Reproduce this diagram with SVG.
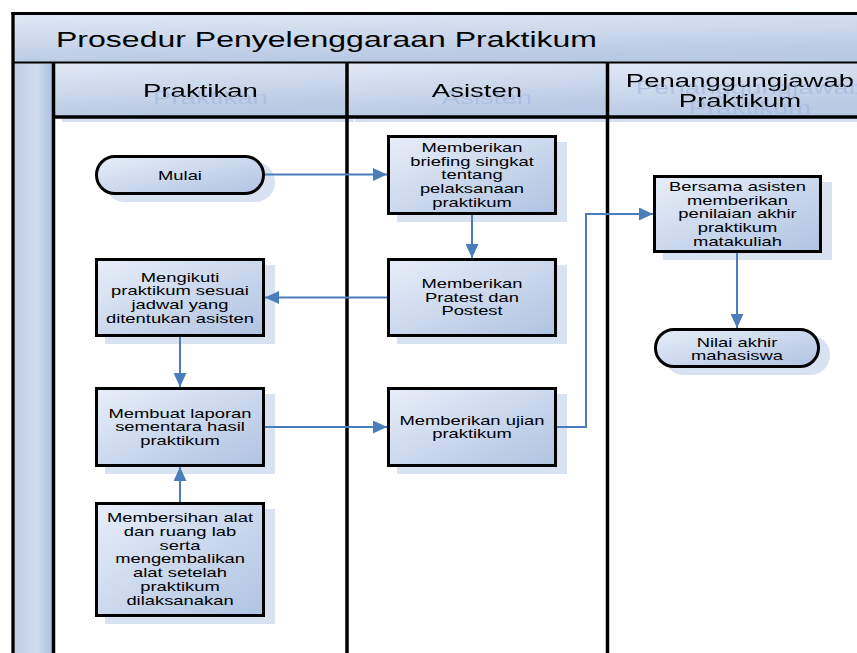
<svg xmlns="http://www.w3.org/2000/svg" width="857" height="653" viewBox="0 0 857 653">
<style>
.bg{fill:#fff}
.box{fill:url(#gBox);stroke:#000;stroke-width:3}
.shadow{fill:#d8e2f1}
.hshadow{fill:#d6e0f0}
.band{fill:url(#gBand)}
.t{font-family:"Liberation Sans",Arial,sans-serif;font-size:13px;fill:#000;text-anchor:middle}
.h{font-family:"Liberation Sans",Arial,sans-serif;font-size:18.5px;fill:#000;text-anchor:middle;filter:url(#ghost)}
.title{font-family:"Liberation Sans",Arial,sans-serif;font-size:21.5px;fill:#000}
.conn{fill:none;stroke:#4a7ebb;stroke-width:2;marker-end:url(#arr)}
.ln{stroke:#000;fill:none}
</style>
<defs>
<linearGradient id="gBox" x1="0" y1="0" x2="1" y2="1">
<stop offset="0" stop-color="#e8eef8"/>
<stop offset="1" stop-color="#afc3e2"/>
</linearGradient>
<linearGradient id="gBand" x1="0" y1="0" x2="0.3" y2="1">
<stop offset="0" stop-color="#e2e9f5"/>
<stop offset="1" stop-color="#b8c9e4"/>
</linearGradient>
<linearGradient id="gPool" x1="0" y1="0" x2="1" y2="0">
<stop offset="0" stop-color="#bfcee8"/>
<stop offset="0.6" stop-color="#cfdbef"/>
<stop offset="1" stop-color="#a9bddf"/>
</linearGradient>
<marker id="arr" markerUnits="userSpaceOnUse" markerWidth="14" markerHeight="13" refX="14" refY="6.5" orient="auto">
<path d="M0,0 L14,6.5 L0,13 z" fill="#4a7ebb"/>
</marker>
<filter id="ghost" x="-20%" y="-30%" width="150%" height="200%">
<feOffset in="SourceAlpha" dx="6.7" dy="7" result="o"/>
<feFlood flood-color="#9fb6de" flood-opacity="0.65"/>
<feComposite in2="o" operator="in" result="s"/>
<feMerge><feMergeNode in="s"/><feMergeNode in="SourceGraphic"/></feMerge>
</filter>
</defs>

<rect class="bg" x="0" y="0" width="857" height="653"/>

<g id="pool">
<rect x="13" y="13" width="41" height="640" fill="url(#gPool)"/>
<rect class="band" x="13" y="13" width="844" height="49"/>
<text class="title" transform="translate(56 47) scale(1.49 1)" x="0" y="0">Prosedur Penyelenggaraan Praktikum</text>
</g>

<g id="lane-headers">
<rect class="hshadow" x="62" y="69" width="292" height="53"/>
<rect class="hshadow" x="355" y="69" width="261" height="53"/>
<rect class="hshadow" x="616" y="69" width="250" height="53"/>
<rect class="band" x="54" y="63" width="293" height="53"/>
<rect class="band" x="347" y="63" width="261" height="53"/>
<rect class="band" x="608" y="63" width="249" height="53"/>
<g id="lane-praktikan"><text class="h" transform="translate(200.5 97) scale(1.49 1)" x="0" y="0">Praktikan</text></g>
<g id="lane-asisten"><text class="h" transform="translate(477 97) scale(1.49 1)" x="0" y="0">Asisten</text></g>
<g id="lane-pj"><text class="h" transform="translate(740 0) scale(1.49 1)"><tspan x="0" y="87">Penanggungjawab</tspan><tspan x="0" y="107">Praktikum</tspan></text></g>
</g>

<g id="frame">
<line class="ln" x1="11.5" y1="13.5" x2="857" y2="13.5" stroke-width="3"/>
<line class="ln" x1="13" y1="12" x2="13" y2="653" stroke-width="3.3"/>
<line class="ln" x1="14" y1="62.5" x2="857" y2="62.5" stroke-width="2.2" stroke="#1c1c1c"/>
<line class="ln" x1="53.5" y1="62" x2="53.5" y2="653" stroke-width="3.5"/>
<line class="ln" x1="53.5" y1="117" x2="857" y2="117" stroke-width="3.5"/>
<line class="ln" x1="347" y1="63" x2="347" y2="653" stroke-width="3.5"/>
<line class="ln" x1="607.5" y1="63" x2="607.5" y2="653" stroke-width="3.5"/>
</g>

<g id="mulai">
<rect class="shadow" x="105" y="162" width="170" height="40" rx="20"/>
<rect class="box" x="96.5" y="156.5" width="167" height="37" rx="18.5"/>
<text class="t" transform="translate(180 0) scale(1.415 1)"><tspan x="0" y="179.6">Mulai</tspan></text>
</g>

<g id="mengikuti">
<rect class="shadow" x="105" y="265" width="170" height="79"/>
<rect class="box" x="96.5" y="259.5" width="167" height="76"/>
<text class="t" transform="translate(180 0) scale(1.415 1)"><tspan x="0" y="281.7">Mengikuti</tspan><tspan x="0" y="295.4">praktikum sesuai</tspan><tspan x="0" y="309.1">jadwal yang</tspan><tspan x="0" y="322.8">ditentukan asisten</tspan></text>
</g>

<g id="membuat">
<rect class="shadow" x="105" y="394" width="170" height="80"/>
<rect class="box" x="96.5" y="388.5" width="167" height="77"/>
<text class="t" transform="translate(180 0) scale(1.415 1)"><tspan x="0" y="417.8">Membuat laporan</tspan><tspan x="0" y="431.5">sementara hasil</tspan><tspan x="0" y="445.2">praktikum</tspan></text>
</g>

<g id="membersihan">
<rect class="shadow" x="105" y="509" width="170" height="115"/>
<rect class="box" x="96.5" y="503.5" width="167" height="112"/>
<text class="t" transform="translate(180 0) scale(1.415 1)"><tspan x="0" y="522">Membersihan alat</tspan><tspan x="0" y="535.8">dan ruang lab</tspan><tspan x="0" y="549.6">serta</tspan><tspan x="0" y="563.4">mengembalikan</tspan><tspan x="0" y="577.2">alat setelah</tspan><tspan x="0" y="591">praktikum</tspan><tspan x="0" y="604.8">dilaksanakan</tspan></text>
</g>

<g id="briefing">
<rect class="shadow" x="397" y="142" width="170" height="80"/>
<rect class="box" x="388.5" y="136.5" width="167" height="77"/>
<text class="t" transform="translate(472 0) scale(1.415 1)"><tspan x="0" y="152">Memberikan</tspan><tspan x="0" y="165.7">briefing singkat</tspan><tspan x="0" y="179.4">tentang</tspan><tspan x="0" y="193.1">pelaksanaan</tspan><tspan x="0" y="206.8">praktikum</tspan></text>
</g>

<g id="pratest">
<rect class="shadow" x="397" y="265" width="170" height="79"/>
<rect class="box" x="388.5" y="259.5" width="167" height="76"/>
<text class="t" transform="translate(472 0) scale(1.415 1)"><tspan x="0" y="288">Memberikan</tspan><tspan x="0" y="301.7">Pratest dan</tspan><tspan x="0" y="315.4">Postest</tspan></text>
</g>

<g id="ujian">
<rect class="shadow" x="397" y="394" width="170" height="80"/>
<rect class="box" x="388.5" y="388.5" width="167" height="77"/>
<text class="t" transform="translate(472 0) scale(1.415 1)"><tspan x="0" y="424.8">Memberikan ujian</tspan><tspan x="0" y="438.5">praktikum</tspan></text>
</g>

<g id="bersama">
<rect class="shadow" x="663" y="182" width="169" height="78"/>
<rect class="box" x="654.5" y="176.5" width="166" height="75"/>
<text class="t" transform="translate(737.5 0) scale(1.415 1)"><tspan x="0" y="191">Bersama asisten</tspan><tspan x="0" y="204.7">memberikan</tspan><tspan x="0" y="218.4">penilaian akhir</tspan><tspan x="0" y="232.1">praktikum</tspan><tspan x="0" y="245.8">matakuliah</tspan></text>
</g>

<g id="nilai">
<rect class="shadow" x="664" y="335" width="166" height="40" rx="20"/>
<rect class="box" x="655.5" y="329.5" width="163" height="37" rx="18.5"/>
<text class="t" transform="translate(737 0) scale(1.415 1)"><tspan x="0" y="346.8">Nilai akhir</tspan><tspan x="0" y="360.5">mahasiswa</tspan></text>
</g>

<g id="connectors">
<path class="conn" d="M265 174.5 H387"/>
<path class="conn" d="M472 215 V258"/>
<path class="conn" d="M387 297.5 H265"/>
<path class="conn" d="M180 337 V387"/>
<path class="conn" d="M180 502 V467"/>
<path class="conn" d="M265 427 H387"/>
<path class="conn" d="M557 427 H586 V214 H653"/>
<path class="conn" d="M737 253 V328"/>
</g>
</svg>
